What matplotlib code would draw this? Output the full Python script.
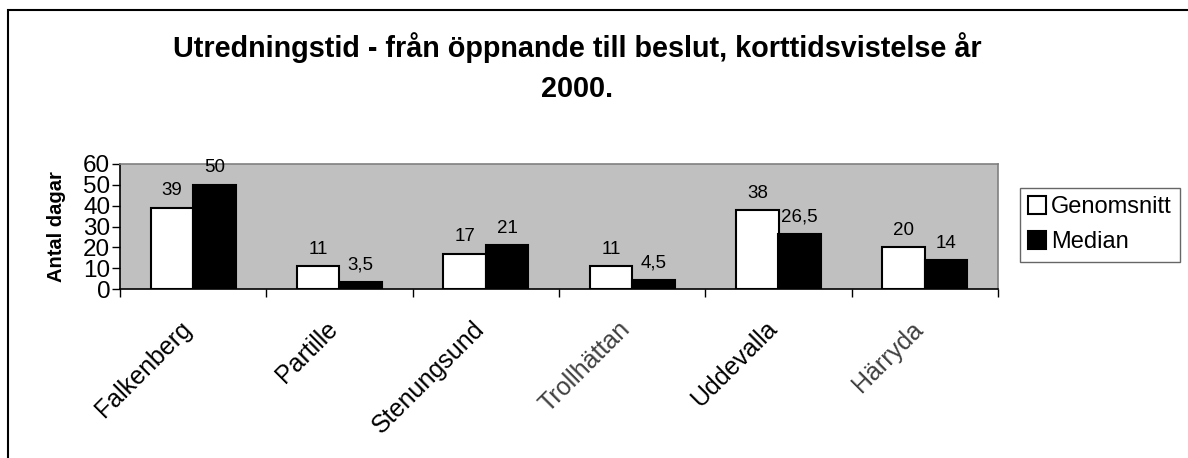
import numpy as np
import matplotlib
matplotlib.use("Agg")
import matplotlib.pyplot as plt
import matplotlib.transforms as mtransforms
from matplotlib.patches import Rectangle

plt.rcParams['font.family'] = ['Liberation Sans', 'DejaVu Sans']

# data
kommuner = ["Falkenberg", "Partille", "Stenungsund", "Trollhättan", "Uddevalla", "Härryda"]
genomsnitt = [39, 11, 17, 11, 38, 20]
median = [50, 3.5, 21, 4.5, 26.5, 14]
genomsnitt_labels = ["39", "11", "17", "11", "38", "20"]
median_labels = ["50", "3,5", "21", "4,5", "26,5", "14"]
label_colors = ["black", "black", "black", "#404040", "black", "#404040"]

fig = plt.figure(figsize=(11.88, 4.58), dpi=100)
ax = fig.add_axes([120 / 1188, 1 - 289 / 458, 878 / 1188, 125 / 458])
ax.set_facecolor("#C0C0C0")

x = np.arange(len(kommuner))
w = 0.29
b1 = ax.bar(x - w / 2, genomsnitt, w, color="white", edgecolor="black", linewidth=1.5, label="Genomsnitt")
b2 = ax.bar(x + w / 2, median, w, color="black", edgecolor="black", linewidth=1.5, label="Median")

for rect, txt in zip(b1, genomsnitt_labels):
    ax.annotate(txt, (rect.get_x() + rect.get_width() / 2, rect.get_height()),
                xytext=(0, 6), textcoords="offset points", ha="center", va="bottom", fontsize=13.5)
for rect, txt in zip(b2, median_labels):
    ax.annotate(txt, (rect.get_x() + rect.get_width() / 2, rect.get_height()),
                xytext=(0, 6), textcoords="offset points", ha="center", va="bottom", fontsize=13.5)

ax.set_xlim(-0.5, len(kommuner) - 0.5)
ax.set_ylim(0, 60)
ax.set_yticks(range(0, 61, 10))
ax.tick_params(axis="y", labelsize=17.5, length=6, width=1, direction="out", pad=1)

# x ticks at category boundaries, labels at centres
ax.set_xticks(np.arange(-0.5, len(kommuner)), minor=False)
ax.set_xticklabels([])
ax.tick_params(axis="x", length=6, width=1, direction="out")
ax.set_xticks(x, minor=True)
ax.set_xticklabels(kommuner, minor=True, rotation=45, ha="right", rotation_mode="anchor", fontsize=18)
ax.tick_params(axis="x", which="minor", length=0, pad=20)
shift = mtransforms.ScaledTranslation(-14 / 100, 0, fig.dpi_scale_trans)
for lbl, c in zip(ax.get_xticklabels(minor=True), label_colors):
    lbl.set_color(c)
    lbl.set_transform(lbl.get_transform() + shift)

ax.spines["top"].set_color("#808080")
ax.spines["right"].set_color("#808080")
ax.spines["left"].set_color("black")
ax.spines["bottom"].set_color("black")
for s in ax.spines.values():
    s.set_linewidth(1.2)

ax.set_ylabel("Antal dagar", fontsize=14.5, fontweight="bold", labelpad=12)

fig.text(577 / 1188, 1 - 68 / 458, "Utredningstid - från öppnande till beslut, korttidsvistelse år\n2000.",
         ha="center", va="center", fontsize=20.7, fontweight="bold", linespacing=1.55)

leg = fig.legend(handles=[b1, b2], loc="upper left", bbox_to_anchor=(1020 / 1188, 1 - 188 / 458),
                 fontsize=17, frameon=True, fancybox=False, edgecolor="#404040",
                 handlelength=0.75, handleheight=0.75, handletextpad=0.2, borderpad=0.35,
                 labelspacing=0.55, borderaxespad=0)
leg.get_frame().set_linewidth(1)

# outer chart border (right and bottom edges fall outside the picture)
fig.patches.append(Rectangle((8 / 1188, -0.1), 1.2, 1.1 - 10 / 458, transform=fig.transFigure,
                             fill=False, edgecolor="black", linewidth=1.5))

fig.savefig("out.png", dpi=100)
